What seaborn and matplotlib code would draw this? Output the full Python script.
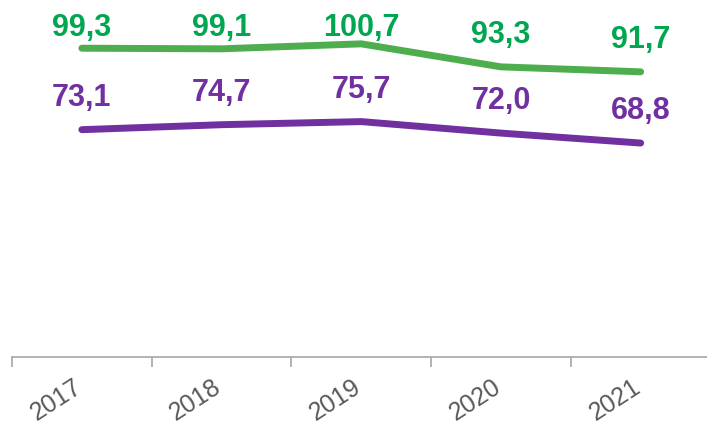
import matplotlib
matplotlib.use("Agg")
import matplotlib.pyplot as plt
import matplotlib.transforms as mtransforms
import seaborn as sns
import pandas as pd
import numpy as np

years = ["2017", "2018", "2019", "2020", "2021"]
green_values = [99.3, 99.1, 100.7, 93.3, 91.7]
purple_values = [73.1, 74.7, 75.7, 72.0, 68.8]

sns.set_theme(style="white")
plt.rcParams['font.family'] = ['Liberation Sans', 'DejaVu Sans']

df = pd.DataFrame({
    "year": years * 2,
    "value": green_values + purple_values,
    "series": ["green"] * len(years) + ["purple"] * len(years),
})

W, H = 707, 425
fig = plt.figure(figsize=(W / 100, H / 100), dpi=100)
ax_h_px = 357
ax = fig.add_axes([12 / W, (H - ax_h_px) / H, 698.5 / W, ax_h_px / H])

line_colors = {"green": "#4EAE4E", "purple": "#7030A0"}
text_colors = {"green": "#00A650", "purple": "#7030A0"}

sns.lineplot(data=df, x="year", y="value", hue="series", palette=line_colors,
             linewidth=5, legend=False, ax=ax, sort=False)
for ln in ax.lines:
    ln.set_solid_capstyle("round")
    ln.set_solid_joinstyle("round")

ymax = 114.8
ax.set_xlim(-0.5, 4.5)
ax.set_ylim(0, ymax)
px_per_unit = ax_h_px / ymax
label_gap_px = 24      # baseline above the point
top_limit_px = 36      # baseline may not go higher than this from top
for name, vals in [("green", green_values), ("purple", purple_values)]:
    for i, v in enumerate(vals):
        y_lab = min(v + label_gap_px / px_per_unit, ymax - top_limit_px / px_per_unit)
        ax.text(i, y_lab, f"{v:.1f}".replace(".", ","), ha="center", va="baseline",
                fontsize=22, fontweight="bold", color=text_colors[name])

ax.set_yticks([])
ax.set_xlabel("")
ax.set_ylabel("")
for s in ["top", "right", "left"]:
    ax.spines[s].set_visible(False)
ax.spines["bottom"].set_color("#A6A6A6")
ax.spines["bottom"].set_linewidth(1.2)

ax.set_xticks(range(len(years)))
ax.set_xticklabels(years, rotation=33, ha="right", va="top", rotation_mode="anchor",
                   fontsize=18, color="#595959")
ax.set_xticks(np.arange(-0.5, 4.5, 1.0), minor=True)
ax.tick_params(axis="x", which="major", length=0, pad=13)
ax.tick_params(axis="x", which="minor", length=7, width=1.2, color="#A6A6A6", bottom=True)
shift = mtransforms.ScaledTranslation(-9 / 100, 0, fig.dpi_scale_trans)
for lab in ax.get_xticklabels():
    lab.set_transform(lab.get_transform() + shift)

fig.savefig("out.png", dpi=100)
